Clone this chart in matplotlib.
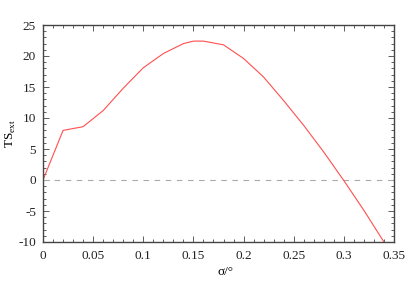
import matplotlib
matplotlib.use("Agg")
import matplotlib.pyplot as plt
from matplotlib.ticker import MultipleLocator

sigma = [0.0, 0.02, 0.04, 0.06, 0.08, 0.10, 0.12, 0.14, 0.15, 0.16, 0.18, 0.20,
         0.22, 0.24, 0.26, 0.28, 0.30, 0.32, 0.34]
ts_ext = [0.0, 8.0, 8.6, 11.2, 14.8, 18.1, 20.4, 22.0, 22.4, 22.4, 21.8, 19.6,
          16.6, 12.8, 8.8, 4.5, -0.1, -4.9, -10.0]
xticks = [0, 0.05, 0.1, 0.15, 0.2, 0.25, 0.3, 0.35]
xticklabels = ["0", "0.05", "0.1", "0.15", "0.2", "0.25", "0.3", "0.35"]
yticks = [-10, -5, 0, 5, 10, 15, 20, 25]
yticklabels = ["-10", "-5", "0", "5", "10", "15", "20", "25"]

plt.rcParams['font.family'] = ['Liberation Serif', 'DejaVu Serif']
plt.rcParams['axes.unicode_minus'] = False
fig = plt.figure(figsize=(4.15, 2.91), dpi=100)
ax = fig.add_axes([43/415, 1-242/291, (394-43)/415, (242-25)/291])

ax.axhline(0, color='#aaaaaa', lw=0.8, dashes=(5, 5))
ax.plot(sigma, ts_ext, color='#ff4f4f', lw=0.8)

ax.set_xlim(0, 0.35)
ax.set_ylim(-10, 25)
ax.set_xticks(xticks)
ax.set_xticklabels(xticklabels)
ax.set_yticks(yticks)
ax.set_yticklabels(yticklabels)
ax.xaxis.set_minor_locator(MultipleLocator(0.01))
ax.yaxis.set_minor_locator(MultipleLocator(1))
ax.tick_params(which='both', direction='in', top=True, right=True, color='#444444',
               labelsize=9.5, labelcolor='#222222', width=0.6)
ax.tick_params(which='major', length=4)
ax.tick_params(which='minor', length=2)
ax.tick_params(axis='x', pad=6)
ax.tick_params(axis='y', pad=5)
for s in ax.spines.values():
    s.set_color('#444444')
    s.set_linewidth(1.0)

ax.set_xlabel('σ/°', fontsize=9.5)
ax.xaxis.set_label_coords(0.52, -0.11)
ax.set_ylabel(r'TS$_{\mathregular{ext}}$', fontsize=9.5)
ax.yaxis.set_label_coords(-0.072, 0.5)

fig.savefig('out.png', dpi=100)
